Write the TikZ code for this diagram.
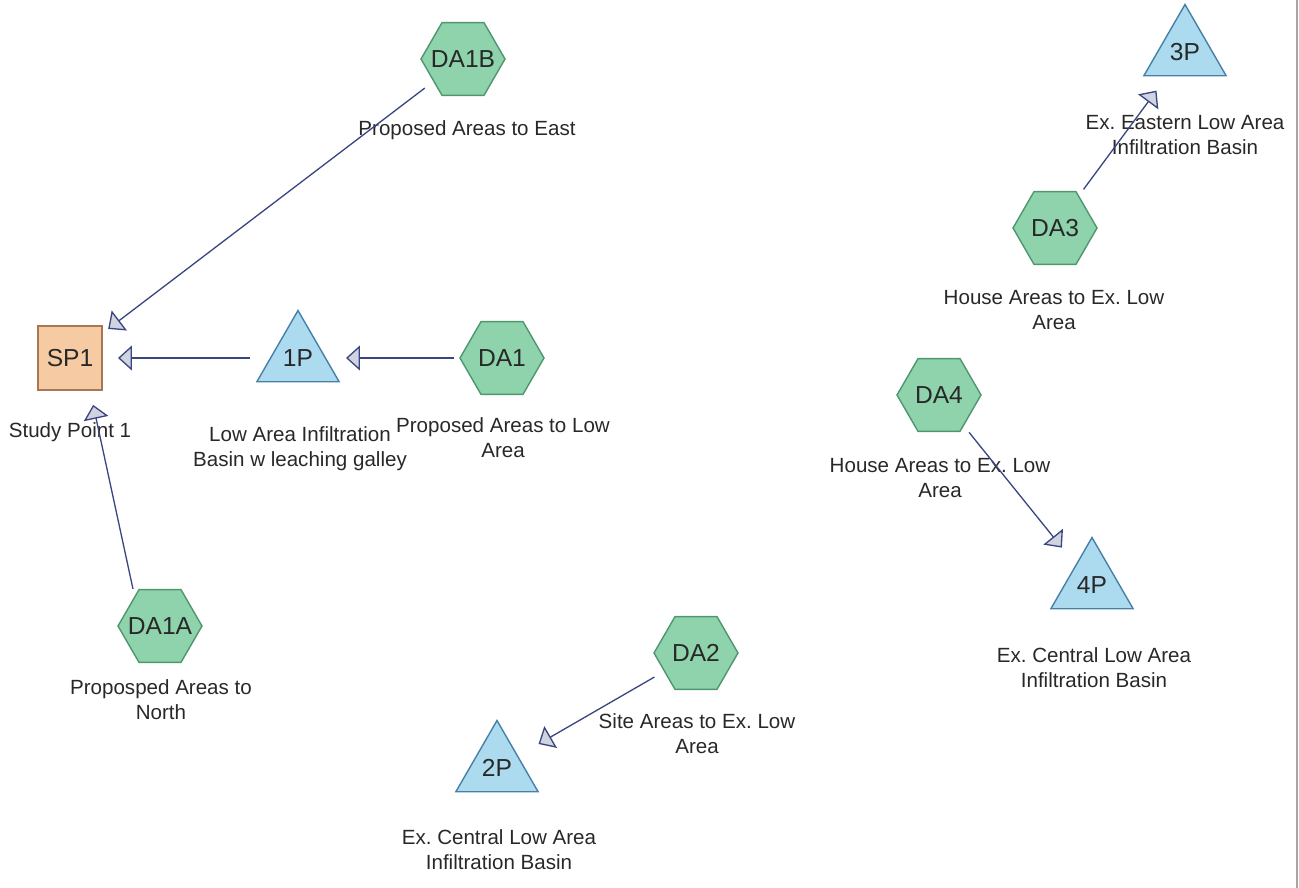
\documentclass[tikz,border=0pt]{standalone}
\usepackage{fontspec}
\setmainfont{Liberation Sans}
\usetikzlibrary{arrows.meta, shapes.geometric, calc}
\usepackage{xcolor}
\frenchspacing

\definecolor{areafill}{RGB}{142,211,172}
\definecolor{areadraw}{RGB}{78,150,110}
\definecolor{pondfill}{RGB}{172,219,240}
\definecolor{ponddraw}{RGB}{70,128,168}
\definecolor{pointfill}{RGB}{246,203,164}
\definecolor{pointdraw}{RGB}{168,120,82}
\definecolor{linkcol}{RGB}{58,70,128}
\definecolor{tipfill}{RGB}{208,212,224}
\definecolor{txtcol}{RGB}{40,40,40}

% keep the id from widening the polygon
\newcommand{\shapeid}[1]{\makebox[0pt]{#1}}

\begin{document}
\begin{tikzpicture}[
    x=0.02cm, y=-0.02cm,
    area/.style={regular polygon, regular polygon sides=6, draw=areadraw, fill=areafill, line width=0.8pt, minimum size=1.68cm, inner sep=0pt, text=txtcol, font=\fontsize{14}{16}\selectfont},
    pond/.style={regular polygon, regular polygon sides=3, draw=ponddraw, fill=pondfill, line width=0.8pt, minimum size=1.9cm, inner sep=0pt, text=txtcol, font=\fontsize{14}{16}\selectfont},
    studypt/.style={draw=pointdraw, fill=pointfill, line width=0.8pt, minimum size=1.28cm, inner sep=0pt, text=txtcol, font=\fontsize{14}{16}\selectfont},
    caption/.style={align=center, inner sep=0pt, text=txtcol, font=\fontsize{11.7}{14.2}\selectfont},
    link/.style={draw=linkcol, line width=0.75pt, shorten <=0.96cm, shorten >=0.96cm,
        -{Triangle[length=0.28cm, width=0.5cm, fill=tipfill]}}
]
\useasboundingbox (0,0) rectangle (1299,888);

% study point
\node[studypt] (SP1) at (70,358) {SP1};
\node[caption] (SP1-txt) at (70,432) {Study Point 1};

% drainage areas
\node[area] (DA1B) at (463,59) {\shapeid{DA1B}};
\node[caption] (DA1B-txt) at (467,130) {Proposed Areas to East};
\node[area] (DA1) at (502,358) {\shapeid{DA1}};
\node[caption] (DA1-txt) at (503,438) {Proposed Areas to Low\\Area};
\node[area] (DA1A) at (160,626) {\shapeid{DA1A}};
\node[caption] (DA1A-txt) at (161,700) {Proposped Areas to\\North};
\node[area] (DA2) at (696,653) {\shapeid{DA2}};
\node[caption] (DA2-txt) at (697,734) {Site Areas to Ex. Low\\Area};
\node[area] (DA3) at (1055,228) {\shapeid{DA3}};
\node[caption] (DA3-txt) at (1054,310) {House Areas to Ex. Low\\Area};
\node[area] (DA4) at (939,395) {\shapeid{DA4}};
\node[caption] (DA4-txt) at (940,478) {House Areas to Ex. Low\\Area};

% ponds
\node[pond] (1P) at (298,358) {1P};
\node[caption] (1P-txt) at (300,449) {Low Area Infiltration\\Basin w leaching galley};
\node[pond] (2P) at (497,768) {2P};
\node[caption] (2P-txt) at (499,850) {Ex. Central Low Area\\Infiltration Basin};
\node[pond] (3P) at (1185,52) {3P};
\node[caption] (3P-txt) at (1185,135) {Ex. Eastern Low Area\\Infiltration Basin};
\node[pond] (4P) at (1092,585) {4P};
\node[caption] (4P-txt) at (1094,668) {Ex. Central Low Area\\Infiltration Basin};

% routing
\draw[link] (DA1B.center) -- (SP1.center);
\draw[link] (1P.center) -- (SP1.center);
\draw[link] (DA1.center) -- (1P.center);
\draw[link, shorten <=0.76cm] ($(DA1A.center)+(-19,0)$) -- ($(SP1.center)+(13,0)$);
\draw[link] (DA2.center) -- (2P.center);
\draw[link] (DA3.center) -- (3P.center);
\draw[link] (DA4.center) -- (4P.center);

% sheet edge
\draw[gray!70, line width=0.6pt] (1297,0) -- (1297,888);
\end{tikzpicture}
\end{document}
